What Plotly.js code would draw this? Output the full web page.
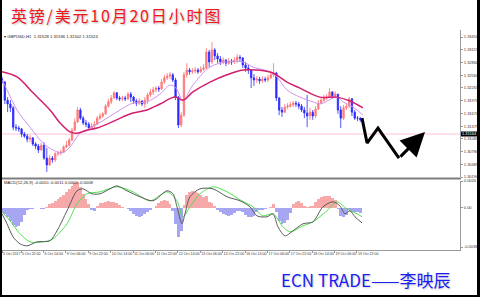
<!DOCTYPE html>
<html><head><meta charset="utf-8">
<script src="https://cdn.plot.ly/plotly-3.0.1.min.js"></script>
<style>html,body{margin:0;padding:0;background:#fff;overflow:hidden}#chart{width:480px;height:297px}</style>
</head><body><div id="chart"></div>
<script>
// ---------- DATA (GBPUSD, 2-hour bars) ----------
const openP = [1.3247,1.3240,1.3198,1.3189,1.3180,1.3135,1.3133,1.3131,1.3119,1.3114,1.3107,1.3110,1.3096,1.3091,1.3082,1.3093,1.3063,1.3047,1.3063,1.3059,1.3073,1.3075,1.3077,1.3089,1.3093,1.3105,1.3128,1.3147,1.3175,1.3156,1.3145,1.3142,1.3133,1.3138,1.3142,1.3156,1.3161,1.3166,1.3184,1.3194,1.3203,1.3215,1.3203,1.3201,1.3203,1.3201,1.3212,1.3205,1.3196,1.3191,1.3196,1.3189,1.3198,1.3210,1.3217,1.3222,1.3226,1.3224,1.3240,1.3250,1.3254,1.3257,1.3245,1.3205,1.3140,1.3163,1.3257,1.3268,1.3264,1.3266,1.3268,1.3264,1.3270,1.3273,1.3310,1.3287,1.3315,1.3301,1.3294,1.3287,1.3291,1.3284,1.3289,1.3287,1.3291,1.3298,1.3296,1.3280,1.3273,1.3268,1.3250,1.3245,1.3247,1.3243,1.3247,1.3245,1.3250,1.3257,1.3261,1.3203,1.3175,1.3170,1.3182,1.3184,1.3187,1.3191,1.3189,1.3184,1.3175,1.3168,1.3161,1.3170,1.3161,1.3177,1.3191,1.3198,1.3203,1.3205,1.3217,1.3208,1.3212,1.3175,1.3156,1.3180,1.3184,1.3201,1.3170,1.3156,1.3156];
const highP = [1.3252,1.3243,1.3205,1.3198,1.3184,1.3142,1.3138,1.3133,1.3124,1.3119,1.3117,1.3112,1.3100,1.3096,1.3098,1.3100,1.3087,1.3070,1.3068,1.3077,1.3080,1.3082,1.3093,1.3103,1.3110,1.3133,1.3156,1.3182,1.3180,1.3161,1.3152,1.3147,1.3145,1.3149,1.3161,1.3168,1.3170,1.3189,1.3201,1.3210,1.3219,1.3217,1.3208,1.3208,1.3208,1.3217,1.3217,1.3208,1.3201,1.3203,1.3198,1.3205,1.3215,1.3224,1.3229,1.3231,1.3231,1.3247,1.3257,1.3261,1.3264,1.3261,1.3250,1.3208,1.3170,1.3264,1.3284,1.3273,1.3273,1.3275,1.3273,1.3277,1.3282,1.3319,1.3315,1.3333,1.3319,1.3308,1.3301,1.3298,1.3294,1.3296,1.3294,1.3298,1.3305,1.3303,1.3298,1.3287,1.3280,1.3270,1.3259,1.3254,1.3252,1.3254,1.3252,1.3257,1.3264,1.3284,1.3264,1.3205,1.3182,1.3189,1.3191,1.3194,1.3196,1.3196,1.3194,1.3189,1.3182,1.3210,1.3180,1.3175,1.3184,1.3198,1.3205,1.3210,1.3212,1.3226,1.3219,1.3219,1.3212,1.3184,1.3187,1.3191,1.3205,1.3203,1.3175,1.3161,1.3159];
const lowP = [1.3236,1.3189,1.3170,1.3170,1.3128,1.3126,1.3124,1.3112,1.3110,1.3100,1.3100,1.3091,1.3084,1.3075,1.3080,1.3059,1.3031,1.3045,1.3052,1.3054,1.3068,1.3070,1.3075,1.3087,1.3091,1.3103,1.3126,1.3145,1.3152,1.3140,1.3135,1.3128,1.3128,1.3133,1.3140,1.3152,1.3156,1.3163,1.3180,1.3189,1.3201,1.3198,1.3196,1.3196,1.3196,1.3198,1.3194,1.3189,1.3184,1.3187,1.3184,1.3180,1.3189,1.3205,1.3210,1.3217,1.3217,1.3222,1.3236,1.3245,1.3247,1.3240,1.3198,1.3133,1.3135,1.3159,1.3250,1.3257,1.3259,1.3261,1.3259,1.3261,1.3266,1.3270,1.3275,1.3282,1.3291,1.3284,1.3280,1.3282,1.3277,1.3280,1.3280,1.3282,1.3284,1.3287,1.3273,1.3264,1.3259,1.3226,1.3231,1.3238,1.3236,1.3238,1.3240,1.3240,1.3247,1.3252,1.3196,1.3163,1.3159,1.3168,1.3177,1.3180,1.3182,1.3182,1.3177,1.3170,1.3156,1.3135,1.3152,1.3152,1.3156,1.3175,1.3189,1.3194,1.3198,1.3203,1.3201,1.3203,1.3166,1.3133,1.3152,1.3175,1.3180,1.3161,1.3152,1.3149,1.3147];
const closeP = [1.3240,1.3198,1.3189,1.3180,1.3135,1.3133,1.3131,1.3119,1.3114,1.3107,1.3110,1.3096,1.3091,1.3082,1.3093,1.3063,1.3047,1.3063,1.3059,1.3073,1.3075,1.3077,1.3089,1.3093,1.3105,1.3128,1.3147,1.3175,1.3156,1.3145,1.3142,1.3133,1.3138,1.3142,1.3156,1.3161,1.3166,1.3184,1.3194,1.3203,1.3215,1.3203,1.3201,1.3203,1.3201,1.3212,1.3205,1.3196,1.3191,1.3196,1.3189,1.3198,1.3210,1.3217,1.3222,1.3226,1.3224,1.3240,1.3250,1.3254,1.3257,1.3245,1.3205,1.3140,1.3163,1.3257,1.3268,1.3264,1.3266,1.3268,1.3264,1.3270,1.3273,1.3310,1.3287,1.3315,1.3301,1.3294,1.3287,1.3291,1.3284,1.3289,1.3287,1.3291,1.3298,1.3296,1.3280,1.3273,1.3268,1.3250,1.3245,1.3247,1.3243,1.3247,1.3245,1.3250,1.3257,1.3261,1.3203,1.3175,1.3170,1.3182,1.3184,1.3187,1.3191,1.3189,1.3184,1.3175,1.3168,1.3161,1.3170,1.3161,1.3177,1.3191,1.3198,1.3203,1.3205,1.3217,1.3208,1.3212,1.3175,1.3156,1.3180,1.3184,1.3201,1.3170,1.3156,1.3156,1.3152];

// moving averages (bar position, price)
const maSlowBar = [0,5.36,11.07,17.14,20.71,24.29,26.79,30.36,33.93,38.57,43.21,46.79,51.79,56.43,61.79,64.64,68.21,74.29,80.36,86.07,91.07,96.79,101.79,106.43,113.57,119.64,124.29,128.9];
const maSlow    = [1.3264,1.3252,1.3215,1.3175,1.3145,1.3124,1.3121,1.3128,1.3133,1.3145,1.3159,1.3168,1.3175,1.3189,1.3205,1.3198,1.3217,1.3240,1.3257,1.3268,1.3268,1.3261,1.3240,1.3226,1.3205,1.3205,1.3196,1.3180];
const maFastBar = [0,1.79,5.36,10,14.64,18.21,21.43,24.29,27.86,31.43,37.5,42.14,46.79,51.79,56.43,60,62.14,64.64,68.21,74.29,80.36,86.07,89.64,95.71,98.21,101.79,106.43,111.07,113.57,119.64,121.79,125.36,128.93];
const maFast    = [1.3245,1.3222,1.3175,1.3135,1.3098,1.3082,1.3075,1.3089,1.3121,1.3133,1.3156,1.3175,1.3191,1.3194,1.3212,1.3233,1.3226,1.3198,1.3233,1.3275,1.3287,1.3287,1.3275,1.3264,1.3252,1.3222,1.3205,1.3194,1.3189,1.3205,1.3194,1.3182,1.3163];

// MACD histogram per bar
const macdHist = [-0.00049,-0.00058,-0.00087,-0.00126,-0.00165,-0.00184,-0.00175,-0.00136,-0.00068,-0.00019,-0.0001,-0.0001,-0.00005,0,-0.0001,-0.00015,0.0001,0.00039,0.00049,0.00068,0.00087,0.00107,0.00126,0.00155,0.00184,0.00213,0.00243,0.00252,0.00204,0.00136,0.00087,0.00039,-0.00019,-0.00029,0.00019,0.00049,0.00049,0.00058,0.00068,0.00058,0.00058,0.00049,0.00029,0.0001,0,-0.0001,-0.00029,-0.00058,-0.00078,-0.00087,-0.00078,-0.00058,-0.00039,-0.00019,-0.00005,0.00019,0.00049,0.00068,0.00078,0.00068,0.00039,-0.00029,-0.00155,-0.00281,-0.00223,0.00029,0.00126,0.00155,0.00165,0.00155,0.00146,0.00126,0.00107,0.00116,0.00058,0.00049,0.00019,-0.00019,-0.00039,-0.00058,-0.00068,-0.00078,-0.00068,-0.00049,-0.00029,-0.00029,-0.00039,-0.00068,-0.00087,-0.00087,-0.00078,-0.00039,-0.00019,-0.00019,-0.0001,-0.00005,0.0001,0.00039,-0.00039,-0.00126,-0.00155,-0.00146,-0.00116,-0.00049,0.00039,0.00058,0.00068,0.00049,0.00019,0.0001,0.00019,0.00019,0.00058,0.00087,0.00107,0.00116,0.00116,0.00116,0.00097,0.00078,-0.0001,-0.00078,-0.00087,-0.00068,-0.00019,-0.00039,-0.00039,-0.00039,-0.00049];
const macdBar  = [0,1.79,3.93,6.43,8.93,12.5,17.14,19.64,23.21,26.79,28.93,32.14,35,38.57,41.07,44.64,49.29,53.93,58.93,61.07,62.5,64.29,65.36,67.14,70.71,75.36,80.36,85,88.57,91.07,94.64,96.79,98.57,101.07,103.93,107.5,111.07,114.64,118.21,120.71,122.5,124.29,126.07,128.6];
const macdLine = [-0.00058,-0.00155,-0.00281,-0.00349,-0.00369,-0.0033,-0.0032,-0.00223,-0.00029,0.00165,0.00184,0.00136,0.00136,0.00184,0.00213,0.00165,0.00107,0.00068,0.00165,0.00136,0.0001,-0.00155,-0.00058,0.00107,0.00184,0.00184,0.00107,0.00068,0.0001,-0.00078,-0.00087,-0.00058,-0.00184,-0.00272,-0.00223,-0.00155,-0.00136,0.0001,0.00058,0.00019,-0.00058,-0.00029,-0.00087,-0.00146];
const sigBar   = [0,2.86,6.43,10,14.64,18.21,23.21,26.79,30.36,35,41.07,46.79,52.86,58.93,62.5,64.64,67.14,70.71,75.36,80.36,85,89.64,93.21,96.79,100.36,102.86,107.5,111.07,116.07,119.64,123.21,126.79,128.6];
const sigLine  = [-0.00039,-0.00126,-0.00252,-0.0033,-0.0033,-0.00301,-0.00155,0.00039,0.00136,0.00155,0.00204,0.00155,0.00068,0.00155,0.00068,-0.00087,0.0001,0.00136,0.00204,0.00155,0.00078,0.0001,-0.00078,-0.00058,-0.00184,-0.00233,-0.00175,-0.00136,-0.00029,0.00058,-0.0001,-0.00058,-0.00087];

// hand-drawn forecast zig-zag (bar position, price)
const zigBar   = [128.6,130.4,134.3,141.8,151.1];
const zigPrice = [1.3156,1.3098,1.3133,1.3063,1.3124];

const priceLine = 1.3119;
const priceLabel = "1.31164";

const priceTickVals = [1.33450,1.33155,1.32860,1.32560,1.32265,1.31970,1.31670,1.31375,1.31080,1.30780,1.30485,1.30190];
const priceTickText = ["1.33450","1.33155","1.32860","1.32560","1.32265","1.31970","1.31670","1.31375","1.31080","1.30780","1.30485","1.30190"];
const macdTickVals = [0.0026,0,-0.0038];
const macdTickText = ["0.0026","0.00","-0.0038"];
const timeTickBars = [0,6.8,14.8,22.8,30.8,38.8,46.8,54.8,62.8,70.8,78.8,86.8,94.8,102.8,110.8,118.8,126.8];
const timeTickText = ["5 Oct 2017","5 Oct 22:00","6 Oct 14:00","9 Oct 06:00","9 Oct 22:00","10 Oct 14:00","11 Oct 06:00","11 Oct 22:00","12 Oct 14:00","13 Oct 06:00","13 Oct 22:00","16 Oct 14:00","17 Oct 06:00","17 Oct 22:00","18 Oct 14:00","19 Oct 06:00","19 Oct 22:00"];

const titleText = "英镑/美元10月20日小时图";
const footerText = "ECN TRADE——李映辰";
const headerText = "▾ GBPUSD,H1  1.31528 1.31536 1.31502 1.31524";
const macdHeader = "MACD(12,26,9) -0.0010 -0.0011 0.0000 -0.0008";

// ---------- CHART ----------
const W = 480, H = 297;
const px = x => x / W, py = y => 1 - y / H;
const bars = closeP.map((_, i) => i);
const tickFont = {family: 'Liberation Sans Narrow, Liberation Sans, Arial', size: 4, color: '#333'};

const traces = [
  {type: 'candlestick', x: bars, open: openP, high: highP, low: lowP, close: closeP,
   xaxis: 'x', yaxis: 'y', whiskerwidth: 0,
   increasing: {line: {color: '#ff6e6e', width: 0.8}, fillcolor: '#ff8a8a'},
   decreasing: {line: {color: '#2a2aff', width: 0.8}, fillcolor: '#2a2aff'}, hoverinfo: 'skip'},
  {type: 'scatter', mode: 'lines', x: maFastBar, y: maFast, xaxis: 'x', yaxis: 'y',
   line: {color: '#cf94ef', width: 1, shape: 'spline', smoothing: 1}},
  {type: 'scatter', mode: 'lines', x: maSlowBar, y: maSlow, xaxis: 'x', yaxis: 'y',
   line: {color: '#d1206e', width: 1.5, shape: 'spline', smoothing: 1}},
  {type: 'scatter', mode: 'lines', x: zigBar.slice(0, 4), y: zigPrice.slice(0, 4), xaxis: 'x', yaxis: 'y',
   line: {color: '#000', width: 3}, cliponaxis: false},
  {type: 'bar', x: bars.slice(0, macdHist.length), y: macdHist, xaxis: 'x2', yaxis: 'y2',
   marker: {color: macdHist.map(v => v >= 0 ? '#f7a8a8' : '#a6a6f2'), line: {width: 0}}},
  {type: 'scatter', mode: 'lines', x: sigBar, y: sigLine, xaxis: 'x2', yaxis: 'y2',
   line: {color: '#4ee24e', width: 1, shape: 'spline', smoothing: 0.8}},
  {type: 'scatter', mode: 'lines', x: macdBar, y: macdLine, xaxis: 'x2', yaxis: 'y2',
   line: {color: '#5a5a5a', width: 1, shape: 'spline', smoothing: 0.8}}
];

const xRange = [-0.36, 163.6];
const layout = {
  width: W, height: H, margin: {l: 0, r: 0, t: 0, b: 0},
  paper_bgcolor: '#fff', plot_bgcolor: '#fff', showlegend: false, hovermode: false, bargap: 0,
  xaxis: {domain: [px(1), px(460)], range: xRange, anchor: 'y', showticklabels: false, showgrid: false,
    zeroline: false, showline: false, ticks: '', rangeslider: {visible: false}},
  yaxis: {domain: [py(177), py(30)], range: [1.3019, 1.33613], anchor: 'x', side: 'right',
    showgrid: false, zeroline: false, showline: true, linecolor: '#9a9a9a', linewidth: 1,
    ticks: 'outside', ticklen: 2, tickcolor: '#9a9a9a', tickvals: priceTickVals, ticktext: priceTickText,
    tickfont: tickFont},
  xaxis2: {domain: [px(1), px(460)], range: xRange, anchor: 'y2', showgrid: false, zeroline: false,
    showline: true, linecolor: '#9a9a9a', linewidth: 1, ticks: 'outside', ticklen: 2, tickcolor: '#9a9a9a',
    tickvals: timeTickBars, ticktext: timeTickText, tickfont: Object.assign({}, tickFont, {size: 3.6}),
    ticklabelposition: 'outside right', tickangle: 0},
  yaxis2: {domain: [py(250), py(181)], range: [-0.00409, 0.0026], anchor: 'x2', side: 'right',
    showgrid: false, zeroline: false, showline: true, linecolor: '#9a9a9a', linewidth: 1,
    ticks: 'outside', ticklen: 2, tickcolor: '#9a9a9a', tickvals: macdTickVals, ticktext: macdTickText,
    tickfont: tickFont},
  shapes: [
    {type: 'line', xref: 'x', yref: 'y', x0: xRange[0], x1: xRange[1], y0: priceLine, y1: priceLine,
     line: {color: '#ffc4d8', width: 1}, layer: 'below'},
    {type: 'line', xref: 'paper', yref: 'paper', x0: 0, x1: px(461), y0: py(178.5), y1: py(178.5),
     line: {color: '#7f7f7f', width: 2}},
    {type: 'rect', xref: 'paper', yref: 'paper', x0: px(461), x1: px(478), y0: py(136.5), y1: py(131.5),
     fillcolor: '#000', line: {width: 0}},
    {type: 'line', xref: 'paper', yref: 'paper', x0: px(1), x1: px(1), y0: 0, y1: 1, line: {color: '#000', width: 2}},
    {type: 'line', xref: 'paper', yref: 'paper', x0: px(478.5), x1: px(478.5), y0: 0, y1: 1, line: {color: '#000', width: 3}},
    {type: 'line', xref: 'paper', yref: 'paper', x0: 0, x1: 1, y0: py(296), y1: py(296), line: {color: '#000', width: 2}}
  ],
  annotations: [
    {xref: 'paper', yref: 'paper', x: px(9), y: py(15), xanchor: 'left', yanchor: 'middle', showarrow: false,
     text: '<span style="letter-spacing:1.8px">' + titleText + '</span>',
     font: {family: 'Noto Sans CJK SC', size: 16, color: '#f01818', shadow: '1px 1px 2px #bbb'}},
    {xref: 'paper', yref: 'paper', x: px(279), y: py(279), xanchor: 'left', yanchor: 'middle', showarrow: false,
     text: footerText, font: {family: 'Noto Sans CJK SC', size: 17, color: '#1c1cf5', shadow: '1px 1px 2px #ccc'}},
    {xref: 'paper', yref: 'paper', x: px(2), y: py(36), xanchor: 'left', yanchor: 'middle', showarrow: false,
     text: headerText, font: {family: 'Liberation Sans, Arial', size: 4.2, color: '#222'}},
    {xref: 'paper', yref: 'paper', x: px(2), y: py(182.5), xanchor: 'left', yanchor: 'middle', showarrow: false,
     text: macdHeader, font: {family: 'Liberation Sans, Arial', size: 4.2, color: '#222'}},
    {xref: 'paper', yref: 'paper', x: px(469.5), y: py(134), xanchor: 'center', yanchor: 'middle', showarrow: false,
     text: priceLabel, font: {family: 'Liberation Sans Narrow, Liberation Sans, Arial', size: 4, color: '#fff'}},
    {xref: 'x', yref: 'y', axref: 'x', ayref: 'y', x: zigBar[4], y: zigPrice[4], ax: zigBar[3], ay: zigPrice[3],
     text: '', showarrow: true, arrowhead: 2, arrowsize: 1.6, arrowwidth: 3, arrowcolor: '#000'}
  ]
};

Plotly.newPlot('chart', traces, layout, {staticPlot: true, displayModeBar: false});
</script></body></html>
